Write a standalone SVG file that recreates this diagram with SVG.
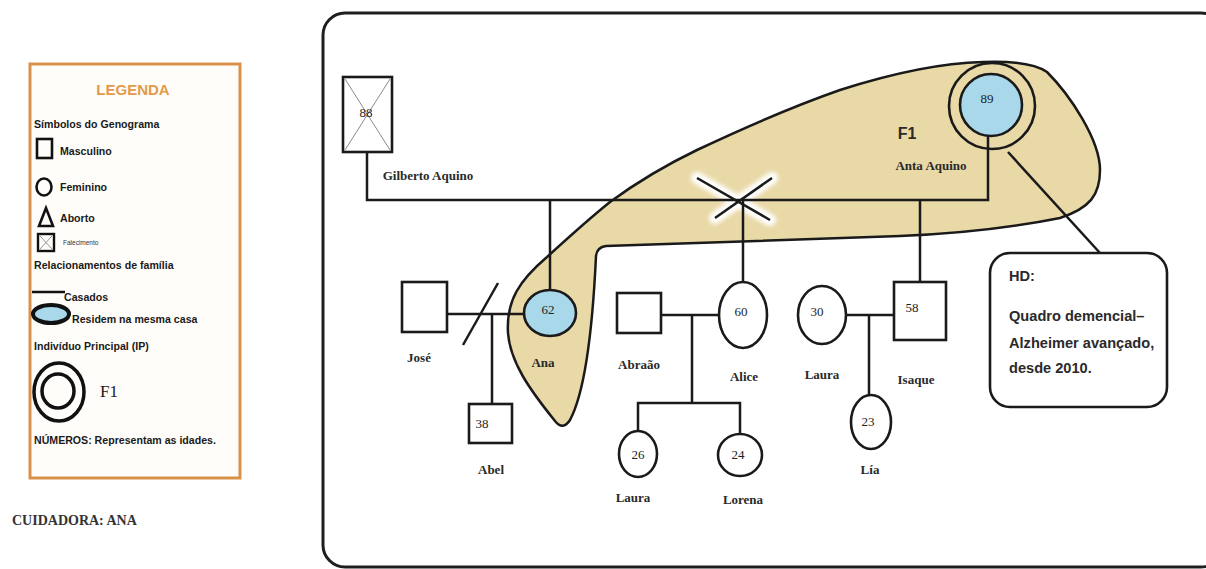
<svg xmlns="http://www.w3.org/2000/svg" width="1206" height="569" viewBox="0 0 1206 569">
  <defs>
    <style>
      .leg { font-family: "Liberation Sans", Arial, sans-serif; font-weight: bold; font-size: 10.6px; fill: #1a1a1a; }
      .name { font-family: "Liberation Serif", "Times New Roman", serif; font-weight: bold; font-size: 13px; fill: #2a2a2a; text-anchor: middle; }
      .age { font-family: "Liberation Serif", "Times New Roman", serif; font-size: 13px; fill: #222222; text-anchor: middle; }
      .hd { font-family: "Liberation Sans", Arial, sans-serif; font-weight: bold; font-size: 14.6px; fill: #2a2a2a; }
      .ln { stroke: #1a1a1a; stroke-width: 2.5; fill: none; }
      .shape { stroke: #1a1a1a; stroke-width: 2.6; fill: #ffffff; }
      .blue { fill: #a8d8ea; }
    </style>
    <filter id="soft" x="-20%" y="-20%" width="140%" height="140%">
      <feGaussianBlur stdDeviation="2"/>
    </filter>
  </defs>

  <rect x="0" y="0" width="1206" height="569" fill="#ffffff"/>

  <!-- Legend panel -->
  <g id="legend">
    <rect x="30" y="64" width="210" height="414" fill="#fffdf9" stroke="#d9914a" stroke-width="3"/>
    <text x="133" y="95" text-anchor="middle" font-family="Liberation Sans, Arial, sans-serif" font-weight="bold" font-size="15" fill="#e39a4a">LEGENDA</text>
    <text class="leg" x="34" y="128">Símbolos do Genograma</text>
    <rect x="37" y="139" width="15" height="19" fill="none" stroke="#111" stroke-width="2.6"/>
    <text class="leg" x="60" y="155">Masculino</text>
    <ellipse cx="44" cy="187" rx="7.5" ry="8.5" fill="none" stroke="#111" stroke-width="2.6"/>
    <text class="leg" x="60" y="191">Feminino</text>
    <polygon points="46,208 39,226 53,226" fill="none" stroke="#111" stroke-width="2.6"/>
    <text class="leg" x="60" y="222">Aborto</text>
    <rect x="38" y="234" width="16" height="17" fill="none" stroke="#111" stroke-width="2.4"/>
    <path d="M40,236 L52,249 M52,236 L40,249" stroke="#777" stroke-width="0.8"/>
    <text x="63" y="245" font-family="Liberation Sans, Arial, sans-serif" font-size="6.5" fill="#333">Falecimento</text>
    <text class="leg" x="34" y="269">Relacionamentos de família</text>
    <line x1="32" y1="292" x2="65" y2="292" stroke="#111" stroke-width="2.6"/>
    <text class="leg" x="64" y="301">Casados</text>
    <ellipse cx="51" cy="314" rx="18" ry="9" class="blue" stroke="#111" stroke-width="4"/>
    <text class="leg" x="72" y="323">Residem na mesma casa</text>
    <text class="leg" x="34" y="350">Indivíduo Principal (IP)</text>
    <ellipse cx="59" cy="392" rx="25" ry="29" fill="none" stroke="#111" stroke-width="3.5"/>
    <ellipse cx="58" cy="391" rx="16" ry="17" fill="none" stroke="#111" stroke-width="3.5"/>
    <text x="100" y="397" font-family="Liberation Serif, Times New Roman, serif" font-size="17" fill="#1a1a1a">F1</text>
    <text class="leg" x="34" y="444">NÚMEROS: Representam as idades.</text>
  </g>

  <text x="12" y="525" font-family="Liberation Serif, Times New Roman, serif" font-weight="bold" font-size="14" fill="#333">CUIDADORA: ANA</text>

  <!-- Genogram frame -->
  <rect x="323" y="13" width="900" height="554" rx="22" fill="#ffffff" stroke="#1f1f1f" stroke-width="3"/>

  <!-- Household (shared residence) outline -->
  <g id="household">
    <path d="M983,62 C1010,61 1035,64 1047,72 C1070,95 1100,140 1100,170 C1100,195 1090,208 1060,218 C1000,230 950,234 900,236 L606,246 Q597,247 596,256 C593,320 586,390 570,420 Q563,431 555,421 C530,390 510,362 508,333 C506,300 520,280 547,257 C570,236 590,218 610,202 C640,180 670,163 697,150 C750,125 800,104 840,90 C890,74 940,63 983,62 Z" fill="#e9d9a7" stroke="#1a1a1a" stroke-width="2.5"/>
  </g>

  <!-- White halo around the divorce mark -->
  <g filter="url(#soft)" stroke="#ffffff" stroke-width="12" stroke-linecap="round">
    <line x1="697" y1="178" x2="770" y2="220"/>
    <line x1="715" y1="218" x2="772" y2="178"/>
  </g>

  <!-- Connectors -->
  <g id="connectors" class="ln">
    <!-- Gilberto + Anta union -->
    <polyline points="367,152 367,200 988,200 988,136"/>
    <line x1="550" y1="200" x2="550" y2="290"/>
    <line x1="743" y1="199" x2="743" y2="282"/>
    <line x1="920" y1="200" x2="920" y2="282"/>
    <line x1="697" y1="178" x2="770" y2="220"/>
    <line x1="715" y1="218" x2="772" y2="178"/>
    <!-- José + Ana -->
    <line x1="447" y1="314" x2="524" y2="314"/>
    <line x1="463" y1="345" x2="498" y2="283"/>
    <line x1="492" y1="314" x2="492" y2="404"/>
    <!-- Abraão + Alice -->
    <line x1="661" y1="315" x2="719" y2="315"/>
    <line x1="692" y1="315" x2="692" y2="403"/>
    <polyline points="638,431 638,403 740,403 740,434"/>
    <!-- Laura + Isaque -->
    <line x1="846" y1="315" x2="894" y2="315"/>
    <line x1="869" y1="315" x2="869" y2="395"/>
    <!-- Note callout -->
    <line x1="1008" y1="152" x2="1100" y2="253"/>
  </g>

  <!-- People -->
  <g id="gilberto">
    <rect x="343" y="77" width="49" height="75" class="shape" stroke-width="3"/>
    <path d="M345,79 L390,150 M390,79 L345,150" stroke="#8a8a8a" stroke-width="1"/>
    <text class="age" x="366" y="117">88</text>
    <text class="name" x="428" y="180">Gilberto Aquino</text>
  </g>

  <g id="anta">
    <circle cx="992" cy="106" r="43" fill="none" stroke="#1a1a1a" stroke-width="2.6"/>
    <circle cx="991" cy="105" r="31" class="blue" stroke="#1a1a1a" stroke-width="2.6"/>
    <text class="age" x="987" y="103">89</text>
    <text x="907" y="139" text-anchor="middle" font-family="Liberation Sans, Arial, sans-serif" font-weight="bold" font-size="16" fill="#2a2a2a">F1</text>
    <text class="name" x="931" y="170" font-size="12">Anta Aquino</text>
  </g>

  <g id="jose">
    <rect x="402" y="282" width="45" height="50" class="shape"/>
    <text class="name" x="419" y="362">José</text>
  </g>

  <g id="ana">
    <ellipse cx="550" cy="313" rx="26" ry="23" class="blue" stroke="#1a1a1a" stroke-width="2.6"/>
    <text class="age" x="548" y="314">62</text>
    <text class="name" x="543" y="367" font-size="12">Ana</text>
  </g>

  <g id="abel">
    <rect x="469" y="404" width="43" height="39" class="shape"/>
    <text class="age" x="482" y="428">38</text>
    <text class="name" x="491" y="474">Abel</text>
  </g>

  <g id="abraao">
    <rect x="617" y="293" width="44" height="40" class="shape"/>
    <text class="name" x="639" y="369">Abraão</text>
  </g>

  <g id="alice">
    <ellipse cx="743" cy="315" rx="24" ry="33" class="shape"/>
    <text class="age" x="741" y="316">60</text>
    <text class="name" x="744" y="381">Alice</text>
  </g>

  <g id="laura-30">
    <ellipse cx="822" cy="315" rx="24" ry="29" class="shape"/>
    <text class="age" x="817" y="316">30</text>
    <text class="name" x="822" y="379">Laura</text>
  </g>

  <g id="isaque">
    <rect x="894" y="282" width="52" height="58" class="shape"/>
    <text class="age" x="912" y="312">58</text>
    <text class="name" x="916" y="384">Isaque</text>
  </g>

  <g id="lia">
    <ellipse cx="871" cy="422" rx="20" ry="27" class="shape"/>
    <text class="age" x="868" y="426">23</text>
    <text class="name" x="870" y="474">Lía</text>
  </g>

  <g id="laura-26">
    <ellipse cx="638" cy="454" rx="19" ry="23" class="shape"/>
    <text class="age" x="638" y="459">26</text>
    <text class="name" x="633" y="502">Laura</text>
  </g>

  <g id="lorena">
    <ellipse cx="740" cy="455" rx="22" ry="21" class="shape"/>
    <text class="age" x="738" y="459">24</text>
    <text class="name" x="743" y="504">Lorena</text>
  </g>

  <!-- Diagnosis note -->
  <g id="note-hd">
    <rect x="990" y="253" width="177" height="154" rx="20" fill="#ffffff" stroke="#1a1a1a" stroke-width="2.6"/>
    <text class="hd" x="1009" y="281">HD:</text>
    <text class="hd" x="1009" y="321">Quadro demencial–</text>
    <text class="hd" x="1009" y="348">Alzheimer avançado,</text>
    <text class="hd" x="1009" y="373">desde 2010.</text>
  </g>
</svg>
